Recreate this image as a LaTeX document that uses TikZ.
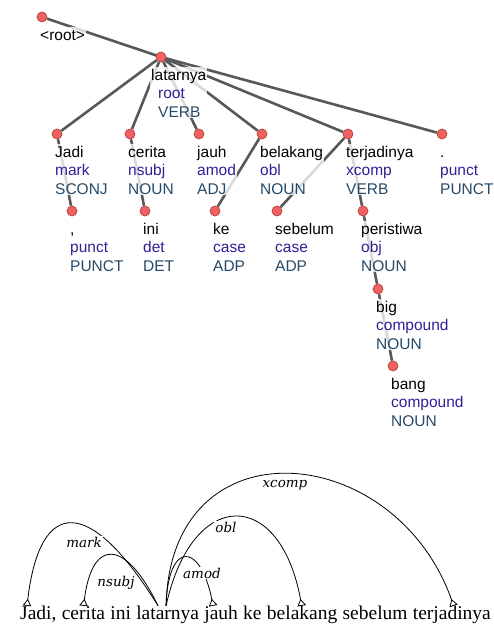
\documentclass[tikz,border=0pt]{standalone}
\usepackage{fontspec}
\setmainfont{Liberation Serif}
\setsansfont{Liberation Sans}
\newfontfamily\deplabelfont{DejaVu Serif}
\usetikzlibrary{arrows.meta,positioning}

\pgfdeclarelayer{edges}
\pgfsetlayers{edges,main}

\definecolor{dotfill}{RGB}{240,98,98}
\definecolor{dotdraw}{RGB}{185,60,60}
\definecolor{edgegray}{RGB}{88,88,88}
\definecolor{relcolor}{RGB}{48,32,150}
\definecolor{poscolor}{RGB}{38,74,104}

% word, relation and tag stacked under a token dot
\newcommand{\tokinfo}[3]{\rule{0pt}{12pt}#1\\\textcolor{relcolor}{#2}\\\textcolor{poscolor}{#3}}

\tikzset{
  tokdot/.style={circle,draw=dotdraw,fill=dotfill,line width=0.7pt,minimum size=10pt,inner sep=0pt},
  infobox/.style={anchor=north west,fill=white,fill opacity=0.78,text opacity=1,align=left,
    inner sep=1pt,font=\sffamily\fontsize{15.5}{18.5}\selectfont},
  treeedge/.style={draw=edgegray,line width=2.6pt},
  sentword/.style={inner sep=0pt,text height=13pt,text depth=4pt,font=\fontsize{19.5}{22}\selectfont},
  deparc/.style={draw,line width=0.8pt,-{Triangle[open,reversed,length=7pt,width=8.5pt,line width=0.8pt]}},
  arclabel/.style={fill=white,inner sep=1pt,font=\deplabelfont\itshape\fontsize{13.5}{15}\selectfont}
}

\begin{document}
\begin{tikzpicture}[x=1pt,y=-1pt]
  \useasboundingbox (0,0) rectangle (493,628);

  % token dots of the tree
  \begin{scope}[every node/.style={tokdot}]
    \node (root)       at (42,17)   {};
    \node (latarnya)   at (161,57)  {};
    \node (jadi)       at (57,134)  {};
    \node (cerita)     at (130,134) {};
    \node (jauh)       at (199,134) {};
    \node (belakang)   at (262,134) {};
    \node (terjadinya) at (348,134) {};
    \node (punct)      at (442,134) {};
    \node (comma)      at (72,211)  {};
    \node (ini)        at (145,211) {};
    \node (ke)         at (215,211) {};
    \node (sebelum)    at (277,211) {};
    \node (peristiwa)  at (363,211) {};
    \node (big)        at (378,289) {};
    \node (bang)       at (393,366) {};
  \end{scope}

  \begin{pgfonlayer}{edges}
    \begin{scope}[every edge/.style={treeedge}]
      \path (root)       edge[shorten >=-15pt] (latarnya);
      \path (latarnya)   edge (jadi);
      \path (latarnya)   edge (cerita);
      \path (latarnya)   edge (jauh);
      \path (latarnya)   edge (belakang);
      \path (latarnya)   edge (terjadinya);
      \path (latarnya)   edge (punct);
      \path (jadi)       edge (comma);
      \path (cerita)     edge (ini);
      \path (belakang)   edge (ke);
      \path (terjadinya) edge (sebelum);
      \path (terjadinya) edge (peristiwa);
      \path (peristiwa)  edge (big);
      \path (big)        edge (bang);
    \end{scope}
  \end{pgfonlayer}

  \begin{scope}[every node/.style={infobox}]
    \node (root-i)       [below right=10pt and -3pt of root.center]       {\rule{0pt}{12pt}<root>};
    \node (latarnya-i)   [below right=10pt and -11pt of latarnya.center]
      {\rule{0pt}{12pt}latarnya\\\hspace*{7pt}\textcolor{relcolor}{root}\\\hspace*{7pt}\textcolor{poscolor}{VERB}};
    \node (jadi-i)       [below right=10pt and -3pt of jadi.center]       {\tokinfo{Jadi}{mark}{SCONJ}};
    \node (cerita-i)     [below right=10pt and -3pt of cerita.center]     {\tokinfo{cerita}{nsubj}{NOUN}};
    \node (jauh-i)       [below right=10pt and -3pt of jauh.center]       {\tokinfo{jauh}{amod}{ADJ}};
    \node (belakang-i)   [below right=10pt and -3pt of belakang.center]   {\tokinfo{belakang}{obl}{NOUN}};
    \node (terjadinya-i) [below right=10pt and -3pt of terjadinya.center] {\tokinfo{terjadinya}{xcomp}{VERB}};
    \node (punct-i)      [below right=10pt and -3pt of punct.center]      {\tokinfo{.}{punct}{PUNCT}};
    \node (comma-i)      [below right=10pt and -3pt of comma.center]      {\tokinfo{,}{punct}{PUNCT}};
    \node (ini-i)        [below right=10pt and -3pt of ini.center]        {\tokinfo{ini}{det}{DET}};
    \node (ke-i)         [below right=10pt and -3pt of ke.center]         {\tokinfo{ke}{case}{ADP}};
    \node (sebelum-i)    [below right=10pt and -3pt of sebelum.center]    {\tokinfo{sebelum}{case}{ADP}};
    \node (peristiwa-i)  [below right=10pt and -3pt of peristiwa.center]  {\tokinfo{peristiwa}{obj}{NOUN}};
    \node (big-i)        [below right=10pt and -3pt of big.center]        {\tokinfo{big}{compound}{NOUN}};
    \node (bang-i)       [below right=10pt and -3pt of bang.center]       {\tokinfo{bang}{compound}{NOUN}};
  \end{scope}

  % sentence with arcs
  \begin{scope}[every node/.style={sentword}]
    \node[anchor=base west] (jadi-w) at (20,619) {Jadi,};
    \node[base right=4.9pt of jadi-w]     (cerita-w)     {cerita};
    \node[base right=4.9pt of cerita-w]   (ini-w)        {ini};
    \node[base right=4.9pt of ini-w]      (latarnya-w)   {latarnya};
    \node[base right=4.9pt of latarnya-w] (jauh-w)       {jauh};
    \node[base right=4.9pt of jauh-w]     (ke-w)         {ke};
    \node[base right=4.9pt of ke-w]       (belakang-w)   {belakang};
    \node[base right=4.9pt of belakang-w] (sebelum-w)    {sebelum};
    \node[base right=4.9pt of sebelum-w]  (terjadinya-w) {terjadinya};
  \end{scope}

  \coordinate (head-l)       at ([xshift=22pt]latarnya-w.north west);
  \coordinate (head-r)       at ([xshift=30pt]latarnya-w.north west);
  \coordinate (jadi-e)       at ([xshift=7pt]jadi-w.north west);
  \coordinate (cerita-e)     at ([xshift=22pt]cerita-w.north west);
  \coordinate (jauh-e)       at ([xshift=9pt]jauh-w.north west);
  \coordinate (belakang-e)   at ([xshift=35pt]belakang-w.north west);
  \coordinate (terjadinya-e) at ([xshift=41pt]terjadinya-w.north west);

  \path[deparc] (head-l) .. controls (90,496) and (40,496) .. (jadi-e);
  \path[deparc] (head-l) .. controls (125,538) and (92,538) .. (cerita-e);
  \path[deparc] (head-r) .. controls (168,541) and (200,541) .. (jauh-e);
  \path[deparc] (head-r) .. controls (192,487) and (280,487) .. (belakang-e);
  \path[deparc] (head-r) .. controls (170,420) and (395,440) .. (terjadinya-e);

  \begin{scope}[every node/.style={arclabel}]
    \node (mark-l)  at (84,542)  {mark};
    \node (nsubj-l) at (116,583) {nsubj};
    \node (amod-l)  at (202,573) {amod};
    \node (obl-l)   at (226,527) {obl};
    \node (xcomp-l) at (285,485) {xcomp};
  \end{scope}

\end{tikzpicture}
\end{document}
